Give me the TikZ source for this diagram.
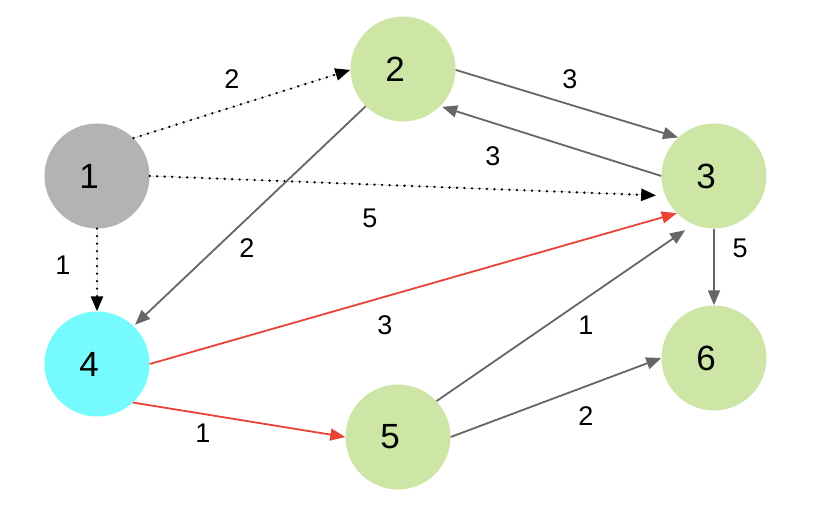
\documentclass[tikz,border=0pt]{standalone}
\usepackage{fontspec}
\setmainfont{Liberation Sans}
\usetikzlibrary{arrows.meta}
\definecolor{nodegray}{HTML}{B3B3B3}
\definecolor{nodegreen}{HTML}{CDE6A6}
\definecolor{nodecyan}{HTML}{75FBFD}
\definecolor{edgegray}{HTML}{666666}
\definecolor{edgered}{HTML}{EA4335}
\tikzset{
  vtx/.style={circle, minimum size=105pt, inner sep=0pt, draw=none,
    label={[font=\fontsize{35}{35}\selectfont, xshift=-8pt, inner sep=0pt]center:#1}},
  lbl/.style={font=\fontsize{27}{27}\selectfont, inner sep=0pt},
  tip/.style={-{Triangle[length=15pt,width=12pt]}},
  graye/.style={tip, draw=edgegray, fill=edgegray, line width=1.8pt},
  rede/.style={tip, draw=edgered, fill=edgered, line width=1.8pt},
  dote/.style={tip, draw=black, fill=black, line width=2.6pt, line cap=round, dash pattern=on 0pt off 7.5pt},
}
\begin{document}
\begin{tikzpicture}[x=1pt,y=-1pt]
\useasboundingbox (0,0) rectangle (814,510);
\node[vtx=1, fill=nodegray]  (n1) at (97,176) {};
\node[vtx=2, fill=nodegreen] (n2) at (403,69) {};
\node[vtx=3, fill=nodegreen] (n3) at (714,176) {};
\node[vtx=4, fill=nodecyan]  (n4) at (97,364) {};
\node[vtx=5, fill=nodegreen] (n5) at (398,437) {};
\node[vtx=6, fill=nodegreen] (n6) at (714,358) {};

\draw[dote] (n1.46) -- (n2.181);
\draw[dote, shorten >=9pt] (n1.0) -- (n3.202);
\draw[dote] (n1.270) -- (n4.90);
\draw[graye] (n2.359) -- (n3.133);
\draw[graye, shorten >=2pt] (n3.180) -- (n2.315);
\draw[graye, shorten >=2pt] (n2.225) -- (n4.46);
\draw[rede] (n4.0) -- (n3.225);
\draw[rede] (n4.313) -- (n5.180);
\draw[graye, shorten >=10pt] (n5.43) -- (n3.247);
\draw[graye] (n5.0) -- (n6.180);
\draw[graye] (n3.270) -- (n6.90);

\node[lbl] (l12) at (232,79) {2};
\node[lbl] (l13) at (370,218) {5};
\node[lbl] (l14) at (63,265) {1};
\node[lbl] (l23) at (570,79) {3};
\node[lbl] (l32) at (493,156) {3};
\node[lbl] (l24) at (247,248) {2};
\node[lbl] (l43) at (385,325) {3};
\node[lbl] (l45) at (203,433) {1};
\node[lbl] (l53) at (586,325) {1};
\node[lbl] (l56) at (586,416) {2};
\node[lbl] (l36) at (740,248) {5};
\end{tikzpicture}
\end{document}
